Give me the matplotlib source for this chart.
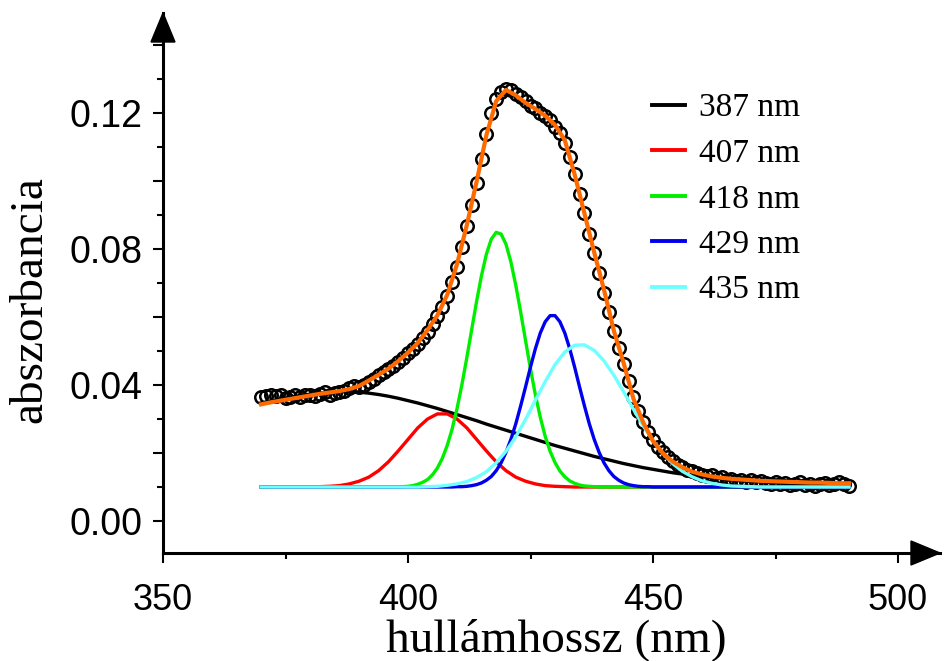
import numpy as np
import matplotlib
matplotlib.use("Agg")
import matplotlib.pyplot as plt
from matplotlib.patches import Polygon
from matplotlib.ticker import MultipleLocator, FuncFormatter

# ---------------- data ----------------
wl_data = np.arange(370, 491, 1)      # measured points, 1 nm step
absorb_data = [
    0.0366, 0.0368, 0.0370, 0.0368, 0.0372, 0.0362, 0.0366, 0.0370, 0.0364, 0.0370,
    0.0372, 0.0367, 0.0375, 0.0378, 0.0370, 0.0376, 0.0380, 0.0382, 0.0392, 0.0396,
    0.0394, 0.0400, 0.0410, 0.0418, 0.0428, 0.0438, 0.0446, 0.0456, 0.0468, 0.0480,
    0.0493, 0.0506, 0.0522, 0.0538, 0.0556, 0.0578, 0.0603, 0.0630, 0.0662, 0.0703,
    0.0748, 0.0805, 0.0868, 0.0930, 0.0995, 0.1065, 0.1138, 0.1200, 0.1240, 0.1262,
    0.1272, 0.1268, 0.1255, 0.1248, 0.1235, 0.1222, 0.1215, 0.1200, 0.1192, 0.1178,
    0.1160, 0.1140, 0.1112, 0.1070, 0.1022, 0.0962, 0.0905, 0.0845, 0.0788, 0.0730,
    0.0672, 0.0615, 0.0560, 0.0510, 0.0462, 0.0412, 0.0365, 0.0325, 0.0292, 0.0262,
    0.0238, 0.0218, 0.0202, 0.0188, 0.0176, 0.0166, 0.0158, 0.0150, 0.0146, 0.0140,
    0.0136, 0.0132, 0.0134, 0.0126, 0.0128, 0.0122, 0.0124, 0.0118, 0.0122, 0.0116,
    0.0120, 0.0114, 0.0118, 0.0112, 0.0110, 0.0116, 0.0108, 0.0112, 0.0106, 0.0110,
    0.0114, 0.0107, 0.0110, 0.0104, 0.0108, 0.0112, 0.0106, 0.0110, 0.0114, 0.0108,
    0.0102,
]

wl_coarse = np.arange(370, 491, 2)    # 2 nm step curves
wl_fine = np.arange(370, 491, 1)      # 1 nm step curves

fit_total = [
    0.0343, 0.0349, 0.0354, 0.0359, 0.0364, 0.0369, 0.0374, 0.0378, 0.0382, 0.0388,
    0.0397, 0.0413, 0.0430, 0.0448, 0.0470, 0.0495, 0.0524, 0.0562, 0.0605, 0.0665,
    0.0755, 0.0870, 0.0998, 0.1135, 0.1235, 0.1268, 0.1252, 0.1230, 0.1212, 0.1192,
    0.1165, 0.1120, 0.1020, 0.0905, 0.0790, 0.0680, 0.0560, 0.0465, 0.0360, 0.0290,
    0.0235, 0.0200, 0.0175, 0.0158, 0.0145, 0.0137, 0.0131, 0.0127, 0.0124, 0.0122,
    0.0120, 0.0118, 0.0117, 0.0116, 0.0115, 0.0114, 0.0113, 0.0113, 0.0112, 0.0111,
    0.0111,
]

comp_387 = [
    0.0347, 0.0353, 0.0359, 0.0364, 0.0369, 0.0373, 0.0376, 0.0378, 0.0380, 0.0380,
    0.0379, 0.0376, 0.0372, 0.0367, 0.0361, 0.0354, 0.0347, 0.0339, 0.0331, 0.0322,
    0.0313, 0.0304, 0.0295, 0.0285, 0.0276, 0.0267, 0.0258, 0.0249, 0.0240, 0.0231,
    0.0222, 0.0214, 0.0206, 0.0198, 0.0190, 0.0183, 0.0176, 0.0169, 0.0163, 0.0157,
    0.0152, 0.0147, 0.0142, 0.0138, 0.0134, 0.0130, 0.0127, 0.0124, 0.0121, 0.0119,
    0.0117, 0.0115, 0.0113, 0.0112, 0.0111, 0.0110, 0.0109, 0.0108, 0.0107, 0.0106,
    0.0106,
]

comp_407 = [
    0.0100, 0.0100, 0.0100, 0.0100, 0.0100, 0.0100, 0.0101, 0.0102, 0.0104, 0.0109,
    0.0117, 0.0129, 0.0148, 0.0174, 0.0206, 0.0240, 0.0274, 0.0300, 0.0315, 0.0315,
    0.0300, 0.0274, 0.0240, 0.0206, 0.0174, 0.0148, 0.0129, 0.0117, 0.0109, 0.0104,
    0.0102, 0.0101, 0.0100, 0.0100, 0.0100, 0.0100, 0.0100, 0.0100, 0.0100, 0.0100,
    0.0100, 0.0100, 0.0100, 0.0100, 0.0100, 0.0100, 0.0100, 0.0100, 0.0100, 0.0100,
    0.0100, 0.0100, 0.0100, 0.0100, 0.0100, 0.0100, 0.0100, 0.0100, 0.0100, 0.0100,
    0.0100,
]

comp_418 = [
    0.0100, 0.0100, 0.0100, 0.0100, 0.0100, 0.0100, 0.0100, 0.0100, 0.0100, 0.0100,
    0.0100, 0.0100, 0.0100, 0.0100, 0.0100, 0.0100, 0.0100, 0.0100, 0.0100, 0.0100,
    0.0100, 0.0100, 0.0100, 0.0100, 0.0100, 0.0100, 0.0100, 0.0100, 0.0100, 0.0101,
    0.0102, 0.0104, 0.0108, 0.0114, 0.0122, 0.0136, 0.0156, 0.0184, 0.0222, 0.0270,
    0.0330, 0.0401, 0.0480, 0.0563, 0.0646, 0.0722, 0.0785, 0.0829, 0.0849, 0.0844,
    0.0814, 0.0762, 0.0693, 0.0614, 0.0530, 0.0447, 0.0371, 0.0305, 0.0249, 0.0205,
    0.0172, 0.0147, 0.0130, 0.0118, 0.0111, 0.0106, 0.0103, 0.0102, 0.0101, 0.0100,
    0.0100, 0.0100, 0.0100, 0.0100, 0.0100, 0.0100, 0.0100, 0.0100, 0.0100, 0.0100,
    0.0100, 0.0100, 0.0100, 0.0100, 0.0100, 0.0100, 0.0100, 0.0100, 0.0100, 0.0100,
    0.0100, 0.0100, 0.0100, 0.0100, 0.0100, 0.0100, 0.0100, 0.0100, 0.0100, 0.0100,
    0.0100, 0.0100, 0.0100, 0.0100, 0.0100, 0.0100, 0.0100, 0.0100, 0.0100, 0.0100,
    0.0100, 0.0100, 0.0100, 0.0100, 0.0100, 0.0100, 0.0100, 0.0100, 0.0100, 0.0100,
    0.0100,
]

comp_429 = [
    0.0100, 0.0100, 0.0100, 0.0100, 0.0100, 0.0100, 0.0100, 0.0100, 0.0100, 0.0100,
    0.0100, 0.0100, 0.0100, 0.0100, 0.0100, 0.0100, 0.0100, 0.0100, 0.0100, 0.0100,
    0.0100, 0.0100, 0.0100, 0.0100, 0.0100, 0.0100, 0.0100, 0.0100, 0.0100, 0.0100,
    0.0100, 0.0100, 0.0100, 0.0100, 0.0100, 0.0100, 0.0100, 0.0100, 0.0100, 0.0100,
    0.0101, 0.0101, 0.0102, 0.0104, 0.0107, 0.0112, 0.0120, 0.0131, 0.0148, 0.0171,
    0.0202, 0.0240, 0.0286, 0.0339, 0.0395, 0.0453, 0.0507, 0.0553, 0.0586, 0.0604,
    0.0604, 0.0586, 0.0553, 0.0507, 0.0453, 0.0395, 0.0339, 0.0286, 0.0240, 0.0202,
    0.0171, 0.0148, 0.0131, 0.0120, 0.0112, 0.0107, 0.0104, 0.0102, 0.0101, 0.0101,
    0.0100, 0.0100, 0.0100, 0.0100, 0.0100, 0.0100, 0.0100, 0.0100, 0.0100, 0.0100,
    0.0100, 0.0100, 0.0100, 0.0100, 0.0100, 0.0100, 0.0100, 0.0100, 0.0100, 0.0100,
    0.0100, 0.0100, 0.0100, 0.0100, 0.0100, 0.0100, 0.0100, 0.0100, 0.0100, 0.0100,
    0.0100, 0.0100, 0.0100, 0.0100, 0.0100, 0.0100, 0.0100, 0.0100, 0.0100, 0.0100,
    0.0100,
]

comp_435 = [
    0.0100, 0.0100, 0.0100, 0.0100, 0.0100, 0.0100, 0.0100, 0.0100, 0.0100, 0.0100,
    0.0100, 0.0100, 0.0100, 0.0100, 0.0100, 0.0100, 0.0100, 0.0101, 0.0102, 0.0105,
    0.0109, 0.0116, 0.0128, 0.0145, 0.0171, 0.0205, 0.0248, 0.0299, 0.0355, 0.0410,
    0.0460, 0.0497, 0.0517, 0.0518, 0.0502, 0.0471, 0.0429, 0.0380, 0.0329, 0.0280,
    0.0236, 0.0199, 0.0169, 0.0146, 0.0130, 0.0118, 0.0111, 0.0106, 0.0103, 0.0102,
    0.0101, 0.0100, 0.0100, 0.0100, 0.0100, 0.0100, 0.0100, 0.0100, 0.0100, 0.0100,
    0.0100,
]

legend_labels = ["387 nm", "407 nm", "418 nm", "429 nm", "435 nm"]
comp_colors = ["#000000", "#ff0000", "#00ee00", "#0000ee", "#70ffff"]
fit_color = "#ff6a00"

x_label = "hullámhossz (nm)"
y_label = "abszorbancia"

# ---------------- figure ----------------
plt.rcParams["font.family"] = ["Liberation Sans", "DejaVu Sans"]
W, H = 944, 661
fig = plt.figure(figsize=(W / 100, H / 100), dpi=100)
ax = fig.add_axes([163 / W, 108 / H, 777 / W, 540 / H])

ax.set_xlim(350, 350 + 777 / 4.9)
ax.set_ylim(-32 / 3400, 508 / 3400)

# measured points
ax.plot(wl_data, absorb_data, "o", mfc="none", mec="black", ms=9, mew=1.8, zorder=1)

# components
lines = []
xs = [wl_coarse, wl_coarse, wl_fine, wl_fine, wl_coarse]
ys = [comp_387, comp_407, comp_418, comp_429, comp_435]
for x, y, c, lab in zip(xs, ys, comp_colors, legend_labels):
    ln, = ax.plot(x, y, color=c, lw=2.4, label=lab, zorder=2,
                  solid_joinstyle="round")
    lines.append(ln)

# total fit
ax.plot(wl_coarse, fit_total, color=fit_color, lw=3.0, zorder=3,
        solid_joinstyle="round")

# spines / arrows
for s in ("top", "right"):
    ax.spines[s].set_visible(False)
for s in ("left", "bottom"):
    ax.spines[s].set_linewidth(2.2)

aw, ah = 777.0, 540.0
up = Polygon([[0, 1], [-12 / aw, 1 - 29 / ah], [12 / aw, 1 - 29 / ah]],
             closed=True, transform=ax.transAxes, clip_on=False,
             facecolor="black", edgecolor="black", zorder=10)
right = Polygon([[1, 0], [1 - 29 / aw, 12 / ah], [1 - 29 / aw, -12 / ah]],
                closed=True, transform=ax.transAxes, clip_on=False,
                facecolor="black", edgecolor="black", zorder=10)
ax.add_patch(up)
ax.add_patch(right)

# ticks
ax.xaxis.set_major_locator(MultipleLocator(50))
ax.xaxis.set_minor_locator(MultipleLocator(25))
ax.yaxis.set_major_locator(MultipleLocator(0.02))
ax.yaxis.set_minor_locator(MultipleLocator(0.01))


def yfmt(v, pos):
    q = v / 0.04
    if abs(q - round(q)) < 1e-6:
        if abs(v) < 1e-9:
            return "0.00"
        return f"{v:.2f}"
    return ""


ax.yaxis.set_major_formatter(FuncFormatter(yfmt))
ax.xaxis.set_major_formatter(FuncFormatter(lambda v, p: f"{v:.0f}"))

ax.tick_params(axis="both", which="major", direction="out", length=7.5, width=1.5)
ax.tick_params(axis="both", which="minor", direction="out", length=4.3, width=1.5)
ax.tick_params(axis="y", which="major", labelsize=27, pad=7)
ax.tick_params(axis="x", which="major", labelsize=26, pad=14)

# axis labels
ax.set_xlabel(x_label, fontsize=34, family="Liberation Serif", va="baseline")
ax.xaxis.set_label_coords((556 - 163) / aw, (553 - 651) / ah)
ax.set_ylabel(y_label, fontsize=34, family="Liberation Serif", va="center")
ax.yaxis.set_label_coords((30 - 163) / aw, (553 - 300) / ah)

# legend
leg = ax.legend(handles=lines, loc="upper left",
                bbox_to_anchor=(652 / W, 1 - 93 / H), bbox_transform=fig.transFigure,
                frameon=False, borderpad=0, borderaxespad=0,
                handlelength=1.0, handletextpad=0.4, labelspacing=0.45,
                prop={"family": "Liberation Serif", "size": 24})
for h in leg.get_lines():
    h.set_linewidth(2.8)

fig.savefig("out.png", dpi=100)
